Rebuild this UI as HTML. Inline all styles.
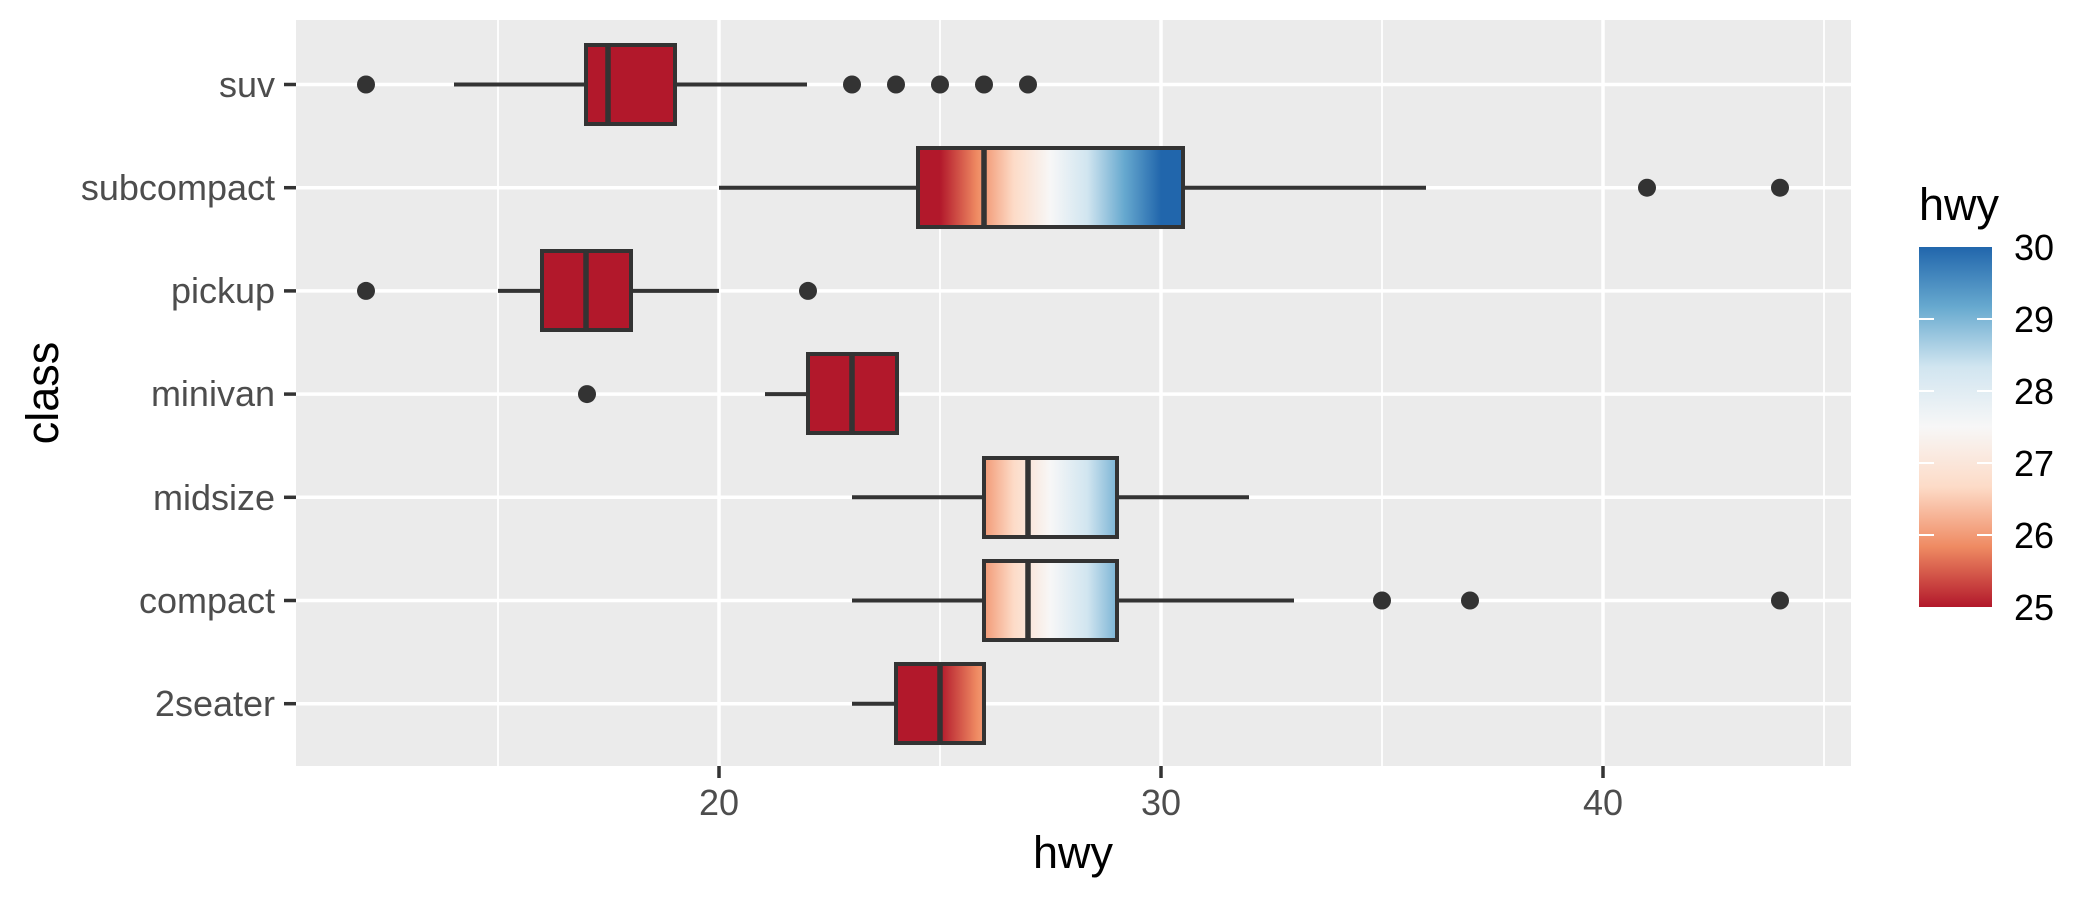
<!DOCTYPE html>
<html><head><meta charset="utf-8"><style>
html,body{margin:0;padding:0;background:#fff;}
svg{display:block;}
text{font-family:"Liberation Sans",Arial,sans-serif;}
</style></head><body>
<svg width="2100" height="900" viewBox="0 0 2100 900" xmlns="http://www.w3.org/2000/svg">
<defs>
<linearGradient id="g" gradientUnits="userSpaceOnUse" x1="940" y1="0" x2="1161" y2="0">
<stop offset="0" stop-color="#B2182B"/>
<stop offset="0.1667" stop-color="#EF8A62"/>
<stop offset="0.3333" stop-color="#FDDBC7"/>
<stop offset="0.5" stop-color="#F7F7F7"/>
<stop offset="0.6667" stop-color="#D1E5F0"/>
<stop offset="0.8333" stop-color="#67A9CF"/>
<stop offset="1" stop-color="#2166AC"/>
</linearGradient>
<linearGradient id="lg" x1="0" y1="1" x2="0" y2="0">
<stop offset="0" stop-color="#B2182B"/>
<stop offset="0.1667" stop-color="#EF8A62"/>
<stop offset="0.3333" stop-color="#FDDBC7"/>
<stop offset="0.5" stop-color="#F7F7F7"/>
<stop offset="0.6667" stop-color="#D1E5F0"/>
<stop offset="0.8333" stop-color="#67A9CF"/>
<stop offset="1" stop-color="#2166AC"/>
</linearGradient>
</defs>
<rect x="296" y="20" width="1555" height="746" fill="#EBEBEB"/>
<g stroke="#fff" stroke-width="1.8">
<line x1="498" y1="20" x2="498" y2="766"/><line x1="940" y1="20" x2="940" y2="766"/>
<line x1="1382" y1="20" x2="1382" y2="766"/><line x1="1824" y1="20" x2="1824" y2="766"/>
</g>
<g stroke="#fff" stroke-width="3.5">
<line x1="719" y1="20" x2="719" y2="766"/><line x1="1161" y1="20" x2="1161" y2="766"/><line x1="1603" y1="20" x2="1603" y2="766"/>
<line x1="296" y1="84.5" x2="1851" y2="84.5"/><line x1="296" y1="187.7" x2="1851" y2="187.7"/>
<line x1="296" y1="290.9" x2="1851" y2="290.9"/><line x1="296" y1="394.1" x2="1851" y2="394.1"/>
<line x1="296" y1="497.3" x2="1851" y2="497.3"/><line x1="296" y1="600.5" x2="1851" y2="600.5"/>
<line x1="296" y1="703.7" x2="1851" y2="703.7"/>
</g>
<g stroke="#333" stroke-width="4" fill="url(#g)">
<line x1="454" y1="84.5" x2="586" y2="84.5"/><line x1="675" y1="84.5" x2="807" y2="84.5"/>
<rect x="586" y="45" width="89" height="79"/><line x1="608" y1="45" x2="608" y2="124" stroke-width="5.5"/>
<line x1="719" y1="187.7" x2="918" y2="187.7"/><line x1="1183" y1="187.7" x2="1426" y2="187.7"/>
<rect x="918" y="148" width="265" height="79"/><line x1="984" y1="148" x2="984" y2="227" stroke-width="5.5"/>
<line x1="498" y1="290.9" x2="542" y2="290.9"/><line x1="631" y1="290.9" x2="719" y2="290.9"/>
<rect x="542" y="251" width="89" height="79"/><line x1="586" y1="251" x2="586" y2="330" stroke-width="5.5"/>
<line x1="765" y1="394.1" x2="808" y2="394.1"/>
<rect x="808" y="354" width="89" height="79"/><line x1="852" y1="354" x2="852" y2="433" stroke-width="5.5"/>
<line x1="852" y1="497.3" x2="984" y2="497.3"/><line x1="1117" y1="497.3" x2="1249" y2="497.3"/>
<rect x="984" y="458" width="133" height="79"/><line x1="1028" y1="458" x2="1028" y2="537" stroke-width="5.5"/>
<line x1="852" y1="600.5" x2="984" y2="600.5"/><line x1="1117" y1="600.5" x2="1294" y2="600.5"/>
<rect x="984" y="561" width="133" height="79"/><line x1="1028" y1="561" x2="1028" y2="640" stroke-width="5.5"/>
<line x1="852" y1="703.7" x2="896" y2="703.7"/>
<rect x="896" y="664" width="88" height="79"/><line x1="940" y1="664" x2="940" y2="743" stroke-width="5.5"/>
</g>
<g fill="#333">
<circle cx="366" cy="84.5" r="9"/><circle cx="852" cy="84.5" r="9"/><circle cx="896" cy="84.5" r="9"/>
<circle cx="940" cy="84.5" r="9"/><circle cx="984" cy="84.5" r="9"/><circle cx="1028" cy="84.5" r="9"/>
<circle cx="1647" cy="187.7" r="9"/><circle cx="1780" cy="187.7" r="9"/>
<circle cx="366" cy="290.9" r="9"/><circle cx="808" cy="290.9" r="9"/>
<circle cx="587" cy="394.1" r="9"/>
<circle cx="1382" cy="600.5" r="9"/><circle cx="1470" cy="600.5" r="9"/><circle cx="1780" cy="600.5" r="9"/>
</g>
<g stroke="#333" stroke-width="3.5">
<line x1="284" y1="84.5" x2="296" y2="84.5"/><line x1="284" y1="187.7" x2="296" y2="187.7"/>
<line x1="284" y1="290.9" x2="296" y2="290.9"/><line x1="284" y1="394.1" x2="296" y2="394.1"/>
<line x1="284" y1="497.3" x2="296" y2="497.3"/><line x1="284" y1="600.5" x2="296" y2="600.5"/>
<line x1="284" y1="703.7" x2="296" y2="703.7"/>
<line x1="719" y1="766" x2="719" y2="778"/><line x1="1161" y1="766" x2="1161" y2="778"/><line x1="1603" y1="766" x2="1603" y2="778"/>
</g>
<g fill="#4D4D4D" font-size="36" text-anchor="end">
<text x="275" y="97">suv</text><text x="275" y="200">subcompact</text><text x="275" y="303">pickup</text>
<text x="275" y="406">minivan</text><text x="275" y="510">midsize</text><text x="275" y="613">compact</text>
<text x="275" y="716">2seater</text>
</g>
<g fill="#4D4D4D" font-size="36" text-anchor="middle">
<text x="719" y="815">20</text><text x="1161" y="815">30</text><text x="1603" y="815">40</text>
</g>
<text x="1073" y="868" font-size="45" text-anchor="middle" fill="#000">hwy</text>
<text transform="translate(58,393) rotate(-90)" font-size="45" text-anchor="middle" fill="#000">class</text>
<text x="1919" y="220" font-size="45" fill="#000">hwy</text>
<rect x="1919" y="247" width="73" height="360" fill="url(#lg)"/>
<g stroke="#fff" stroke-width="2">
<line x1="1919" y1="319" x2="1934" y2="319"/><line x1="1977" y1="319" x2="1992" y2="319"/>
<line x1="1919" y1="391" x2="1934" y2="391"/><line x1="1977" y1="391" x2="1992" y2="391"/>
<line x1="1919" y1="463" x2="1934" y2="463"/><line x1="1977" y1="463" x2="1992" y2="463"/>
<line x1="1919" y1="535" x2="1934" y2="535"/><line x1="1977" y1="535" x2="1992" y2="535"/>
</g>
<g fill="#000" font-size="36">
<text x="2014" y="260">30</text><text x="2014" y="332">29</text><text x="2014" y="404">28</text>
<text x="2014" y="476">27</text><text x="2014" y="548">26</text><text x="2014" y="620">25</text>
</g>
</svg>
</body></html>
